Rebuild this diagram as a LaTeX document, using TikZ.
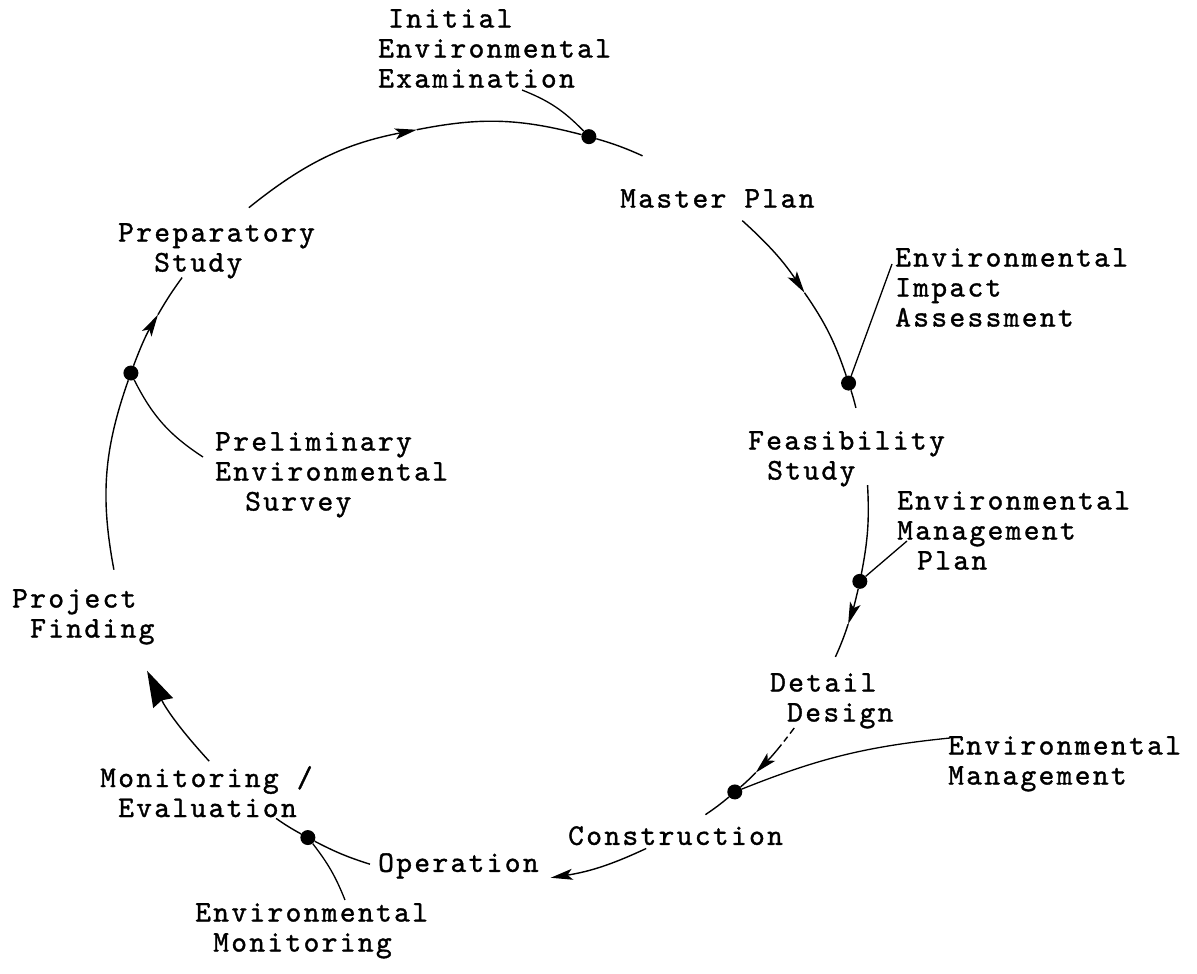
\documentclass[tikz,border=0pt]{standalone}
\usepackage{fontspec}
\usepackage{tikz}
\usetikzlibrary{arrows.meta,calc}
\newfontfamily\typewr{lmmono10-regular.otf}[LetterSpace=7.8,FakeBold=1.2]

\begin{document}
\begin{tikzpicture}[x=1pt,y=-1pt,
  lbl/.style={anchor=north west,inner sep=0pt,align=left,
    font=\typewr\fontsize{30}{30}\selectfont},
  dot/.style={circle,fill=black,inner sep=0pt,minimum size=15pt},
  cyc/.style={line width=1.4pt},
  arr/.style={cyc,-{Stealth[length=22pt,width=11pt,inset=5pt]}},
  bigarr/.style={cyc,-{Stealth[length=36pt,width=22pt,inset=3pt]}},
  feed/.style={line width=1.3pt}
  ]
\useasboundingbox (0,0) rectangle (1197,974);
\coordinate (C) at (488,503);
% points on the cycle
\foreach \n/\a in {s1/231,a1/259.2,e1/294,s2/312,a2/326.4,e2/345.5,s3/357.3,a3/18.6,e3/23.9,s4/36.3,a4/45.2,e4/55.1,s5/65.4,a5/80.5,s6/108.1,e6/123.9,s7/137.2,a7/153.8,s8/169.9,a8/209.7,e8/216.4}
  \coordinate (\n) at ($(C)+(\a:380)$);

% stages
\node[lbl] (prep) at (118,223) {Preparatory\\\hspace*{36pt}Study};
\node[lbl] (mp) at (620,189) {Master Plan};
\node[lbl] (fs) at (748,431) {Feasibility\\\hspace*{19pt}Study};
\node[lbl] (dd) at (770,673) {Detail\\\hspace*{17pt}Design};
\node[lbl] (con) at (568,826) {Construction};
\node[lbl] (op) at (378,853) {Operation};
\node[lbl] (me) at (100,766) {Monitoring /\\\hspace*{18pt}Evaluation};
\node[lbl] (pf) at (12,589) {Project\\\hspace*{18pt}Finding};

% environmental steps
\node[lbl] (iee) at (378,9) {\hspace*{10pt}Initial\\Environmental\\Examination};
\node[lbl] (eia) at (895,248) {Environmental\\Impact\\Assessment};
\node[lbl] (emp) at (897,491) {Environmental\\Management\\\hspace*{20pt}Plan};
\node[lbl] (em) at (948,736) {Environmental\\Management};
\node[lbl] (emo) at (195,903) {Environmental\\\hspace*{18pt}Monitoring};
\node[lbl] (pes) at (215,432) {Preliminary\\Environmental\\\hspace*{30pt}Survey};

\node[dot] (dIEE) at ($(C)+(285.4:380)$) {};
\node[dot] (dEIA) at ($(C)+(341.6:380)$) {};
\node[dot] (dEMP) at ($(C)+(11.9:380)$) {};
\node[dot] (dEM) at ($(C)+(49.5:380)$) {};
\node[dot] (dEMo) at ($(C)+(118.3:380)$) {};
\node[dot] (dPES) at ($(C)+(200:380)$) {};

% the cycle
\draw[arr] (s1) to[bend left=14] (a1);
\draw[cyc] (a1) to[bend left=13] (dIEE);
\draw[cyc] (dIEE) to[bend left=4] (e1);
\draw[arr] (s2) to[bend left=7] (a2);
\draw[cyc] (a2) to[bend left=8] (dEIA);
\draw[cyc] (dEIA) to[bend left=2] (e2);
\draw[cyc] (s3) to[bend left=7] (dEMP);
\draw[arr] (dEMP) to[bend left=3] (a3);
\draw[cyc] (a3) to[bend left=3] (e3);
\draw[arr,dash pattern=on 7pt off 4pt on 6pt off 4pt on 80pt off 0pt] (s4) to[bend left=4] (a4);
\draw[cyc] (a4) to[bend left=2] (dEM);
\draw[cyc] (dEM) to[bend left=3] (e4);
\draw[arr] (s5) to[bend left=8] (a5);
\draw[cyc] (s6) to[bend left=5] (dEMo);
\draw[cyc] (dEMo) to[bend left=3] (e6);
\draw[bigarr] (s7) to[bend left=8] (a7);
\draw[cyc] (s8) to[bend left=15] (dPES);
\draw[arr] (dPES) to[bend left=5] (a8);
\draw[cyc] (a8) to[bend left=3] (e8);

% links to the environmental steps
\coordinate (ieeT) at (522,90);
\coordinate (eiaT) at (892,264);
\coordinate (empT) at (907,541);
\coordinate (emT) at (950,738);
\coordinate (emoT) at (345,900);
\coordinate (pesT) at (203,457);
\draw[feed] (ieeT) to[bend left=12] (dIEE);
\draw[feed] (eiaT) -- (dEIA);
\draw[feed] (empT) -- (dEMP);
\draw[feed] (dEM) to[bend left=8] (emT);
\draw[feed] (dEMo) to[bend left=8] (emoT);
\draw[feed] (dPES) to[bend right=15] (pesT);
\end{tikzpicture}
\end{document}
